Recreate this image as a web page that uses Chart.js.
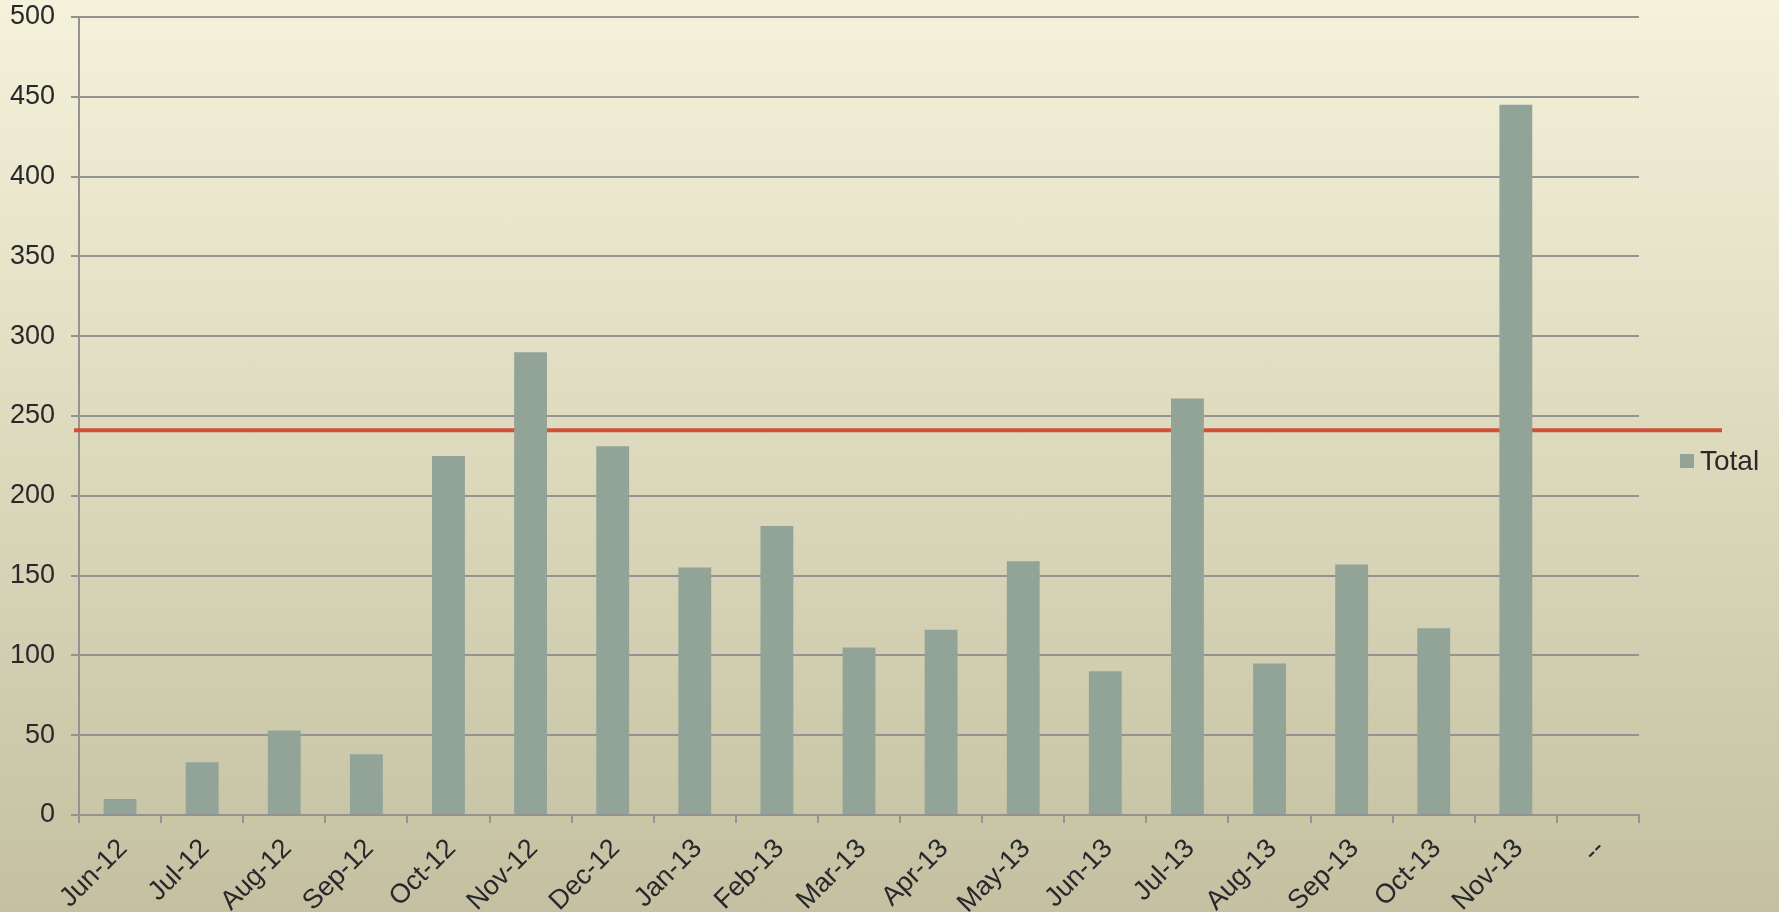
<!DOCTYPE html>
<html>
<head>
<meta charset="utf-8">
<title>Total by month</title>
<script src="https://cdn.jsdelivr.net/npm/chart.js@4/dist/chart.umd.min.js"></script>
<style>
  html, body { margin: 0; padding: 0; }
  #wrap {
    width: 1779px;
    height: 912px;
    background: linear-gradient(to bottom, #f4f2da 0%, #dcd9bd 50%, #c4c0a1 100%);
  }
</style>
</head>
<body>
<div id="wrap">
  <canvas id="myChart" width="1779" height="912"></canvas>
</div>
<script>
const months = ["Jun-12", "Jul-12", "Aug-12", "Sep-12", "Oct-12", "Nov-12", "Dec-12",
  "Jan-13", "Feb-13", "Mar-13", "Apr-13", "May-13", "Jun-13", "Jul-13", "Aug-13",
  "Sep-13", "Oct-13", "Nov-13", "--"];
const totals = [10, 33, 53, 38, 225, 290, 231, 155, 181, 105, 116, 159, 90, 261, 95,
  157, 117, 445, null];
const seriesName = "Total";
const target = 241;
const yTicks = [0, 50, 100, 150, 200, 250, 300, 350, 400, 450, 500];

const barColor = "#92a398";
const gridColor = "#939393";
const textColor = "#28282c";
const fontFamily = "'Liberation Sans', Arial, sans-serif";

// red target line, drawn under the bars and running past the plot on both sides
const targetLine = {
  id: "targetLine",
  beforeDatasetsDraw(chart) {
    const ctx = chart.ctx;
    const area = chart.chartArea;
    const y = chart.scales.y.getPixelForValue(target);
    ctx.save();
    ctx.strokeStyle = "#d1503a";
    ctx.lineWidth = 4;
    ctx.beginPath();
    ctx.moveTo(area.left - 5, y);
    ctx.lineTo(area.right + 83, y);
    ctx.stroke();
    ctx.restore();
  },
};

// legend box on the right, like the spreadsheet one
const sideLegend = {
  id: "sideLegend",
  afterDraw(chart) {
    const ctx = chart.ctx;
    const area = chart.chartArea;
    const ds = chart.data.datasets[0];
    const x = area.right + 41;
    const y = chart.height / 2 + 5;
    ctx.save();
    ctx.fillStyle = ds.backgroundColor;
    ctx.fillRect(x, y - 7, 14, 14);
    ctx.fillStyle = textColor;
    ctx.font = "28px " + fontFamily;
    ctx.textBaseline = "middle";
    ctx.textAlign = "left";
    ctx.fillText(ds.label, x + 20, y + 1);
    ctx.restore();
  },
};

const myChartRef = document.getElementById("myChart").getContext("2d");
new Chart(myChartRef, {
  type: "bar",
  data: {
    labels: months,
    datasets: [
      {
        label: seriesName,
        data: totals,
        backgroundColor: barColor,
        borderWidth: 0,
        barPercentage: 0.4,
        categoryPercentage: 1.0,
      },
    ],
  },
  options: {
    responsive: false,
    animation: false,
    layout: {
      padding: { top: 17, right: 140, bottom: 0, left: 0 },
    },
    plugins: {
      legend: { display: false },
      tooltip: { enabled: false },
    },
    scales: {
      x: {
        grid: {
          offset: true,
          drawOnChartArea: false,
          drawTicks: true,
          tickLength: 8,
          color: gridColor,
          lineWidth: 2,
        },
        border: { color: gridColor, width: 2 },
        ticks: {
          color: textColor,
          font: { family: fontFamily, size: 27 },
          minRotation: 45,
          maxRotation: 45,
          autoSkip: false,
          padding: 10,
          labelOffset: 3,
        },
        afterFit(scale) {
          scale.height = 97;
        },
      },
      y: {
        min: 0,
        max: 500,
        afterBuildTicks(scale) {
          scale.ticks = yTicks.map((v) => ({ value: v }));
        },
        grid: {
          color: gridColor,
          lineWidth: 2,
          tickLength: 8,
        },
        border: { color: gridColor, width: 2 },
        ticks: {
          color: textColor,
          font: { family: fontFamily, size: 27 },
          padding: 16,
        },
        afterFit(scale) {
          scale.width = 79;
          // top label may sit right at the canvas edge
          scale.paddingTop = 0;
          scale.paddingBottom = 0;
        },
      },
    },
  },
  plugins: [targetLine, sideLegend],
});
</script>
</body>
</html>
